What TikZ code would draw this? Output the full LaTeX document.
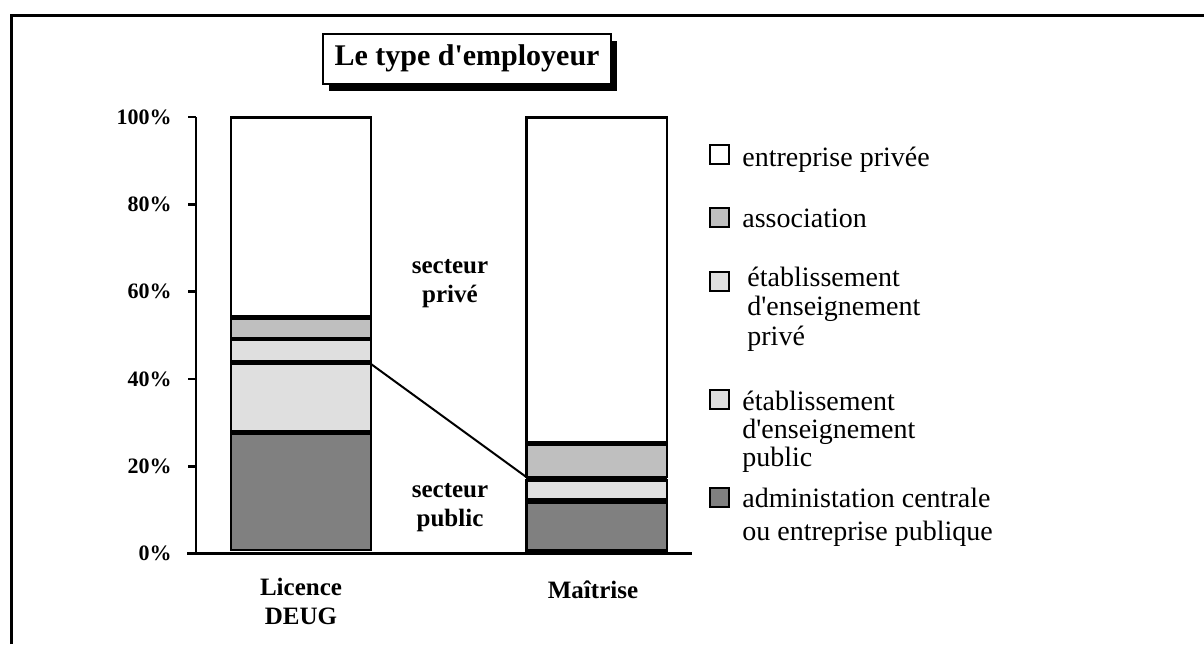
\documentclass[tikz,border=0pt]{standalone}
\usepackage{fontspec}
\setmainfont{Liberation Serif}
\usetikzlibrary{shadows}
\definecolor{dk}{gray}{0.5}
\definecolor{md}{gray}{0.75}
\definecolor{lt}{gray}{0.875}
\begin{document}
\begin{tikzpicture}[x=0.5pt,y=-0.5pt,
    seg/.style={draw,line width=1.2pt},
    ax/.style={line width=1.3pt},
    lab/.style={font=\fontsize{11}{13}\selectfont\bfseries,anchor=east,inner sep=0pt},
    cat/.style={font=\fontsize{12.5}{14.5}\selectfont\bfseries,align=center,anchor=base,inner sep=0pt},
    key/.style={draw,line width=1pt,minimum size=9.5pt,inner sep=0pt},
    leg/.style={font=\fontsize{14}{14.75}\selectfont,align=left,anchor=base west,inner sep=0pt}]
      \useasboundingbox (0,0) rectangle (1204,644);
      \draw[line width=1.35pt] (11.3,644) -- (11.3,15.3) -- (1204,15.3);
      \node[draw,fill=white,line width=1pt,minimum width=144pt,minimum height=25pt,inner sep=0pt,
        font=\fontsize{15}{18}\selectfont\bfseries,
        drop shadow={opacity=1,fill=black,shadow xshift=3pt,shadow yshift=-3.5pt}]
        (t) at (467,58.5) {Le type d\textquotesingle employeur};
      \fill (231,117.5) rectangle (371,550);
      \foreach \a/\b/\c in {117.5/316.5/white,318.5/338/md,340/361.5/lt,364/431.5/lt,433.5/550/dk}
        \draw[seg,fill=\c] (231,\a) rectangle (371,\b);
      \fill (526.3,117.5) rectangle (667,550.5);
      \foreach \a/\b/\c in {117.5/442/white,444.5/477/md,480.5/499.5/lt,500.5/502/lt,503/550.5/dk}
        \draw[seg,fill=\c] (526.3,\a) rectangle (667,\b);
      \draw[ax] (196,117) -- (196,553.5);
      \draw[ax] (187,553.5) -- (692,553.5);
      \foreach \p in {0,20,40,60,80,100} {
        \draw[ax] (188,{553.5-4.365*\p}) -- (196,{553.5-4.365*\p});
        \node[lab] (y\p) at (172,{553.5-4.365*\p}) {\p\%};
      }
      \coordinate (p1) at (371,364);
      \coordinate (p2) at (526.3,477);
      \draw[line width=1pt] (p1) -- (p2);
      \node[cat] (s1) at (450,302) {secteur\\privé};
      \node[cat] (s2) at (450,526) {secteur\\public};
      \node[cat] (c1) at (301,624) {Licence\\DEUG};
      \node[cat] (c2) at (593,598) {Maîtrise};
      \node[key,fill=white] (k1) at (719.5,154) {};
      \node[key,fill=md] (k2) at (719.5,217) {};
      \node[key,fill=lt] (k3) at (719.5,281) {};
      \node[key,fill=lt] (k4) at (719.5,399.5) {};
      \node[key,fill=dk] (k5) at (719.5,497) {};
      \node[leg] (e1) at (742,166) {entreprise privée};
      \node[leg] (e2) at (742,227) {association};
      \node[leg] (e3) at (747,345) {établissement\\d\textquotesingle enseignement\\privé};
      \node[leg,font=\fontsize{14}{14}\selectfont] (e4) at (742,466) {établissement\\d\textquotesingle enseignement\\public};
      \node[leg,font=\fontsize{14}{16.5}\selectfont] (e5) at (742,540) {administation centrale\\ou entreprise publique};
    \end{tikzpicture}
\end{document}
